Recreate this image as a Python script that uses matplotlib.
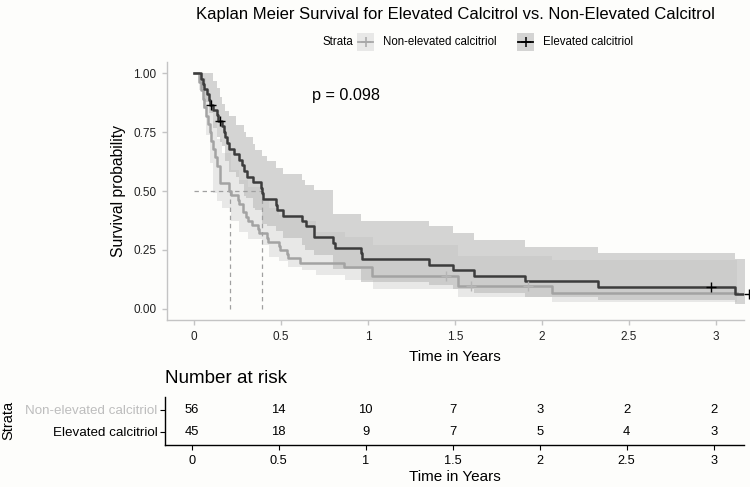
import matplotlib
matplotlib.use('Agg')
import matplotlib.pyplot as plt
from matplotlib.patches import Rectangle
from matplotlib.lines import Line2D

plt.rcParams['font.family'] = ['Liberation Sans', 'DejaVu Sans']

# ---- survival curves (step, post) ----
elev_t = [0, 0.04, 0.05, 0.06, 0.075, 0.085, 0.09, 0.11, 0.13, 0.14, 0.16, 0.17, 0.18,
          0.19, 0.20, 0.23, 0.26, 0.275, 0.29, 0.305, 0.34, 0.385, 0.39, 0.395, 0.47,
          0.475, 0.51, 0.62, 0.645, 0.69, 0.80, 0.81, 0.96, 0.965, 1.35, 1.49, 1.61,
          1.90, 2.32, 3.11, 3.19]
elev_s = [1.0, 0.978, 0.956, 0.933, 0.911, 0.889, 0.867, 0.844, 0.822, 0.80, 0.776,
          0.752, 0.728, 0.704, 0.68, 0.657, 0.633, 0.61, 0.586, 0.562, 0.538, 0.514,
          0.49, 0.467, 0.443, 0.42, 0.396, 0.373, 0.35, 0.304, 0.28, 0.259, 0.236,
          0.212, 0.186, 0.163, 0.14, 0.116, 0.093, 0.062, 0.062]

non_t = [0, 0.03, 0.04, 0.05, 0.06, 0.07, 0.08, 0.09, 0.10, 0.11, 0.12, 0.13, 0.15,
         0.20, 0.21, 0.25, 0.26, 0.28, 0.30, 0.31, 0.335, 0.37, 0.375, 0.42, 0.425,
         0.49, 0.495, 0.535, 0.54, 0.61, 0.86, 1.02, 1.025, 1.52, 2.06, 3.12]
non_s = [1.0, 0.964, 0.929, 0.893, 0.857, 0.821, 0.786, 0.75, 0.714, 0.679, 0.643,
         0.607, 0.536, 0.50, 0.482, 0.464, 0.446, 0.41, 0.39, 0.375, 0.357, 0.339,
         0.321, 0.30, 0.283, 0.265, 0.25, 0.232, 0.214, 0.196, 0.176, 0.16, 0.141,
         0.098, 0.065, 0.065]

# censoring marks
elev_cens_t = [0.097, 0.15, 2.97, 3.19]
elev_cens_s = [0.867, 0.80, 0.093, 0.062]
non_cens_t = [1.45, 1.59, 1.92]
non_cens_s = [0.141, 0.098, 0.098]

# ---- confidence bands ----
eband_t = [0, 0.04, 0.06, 0.085, 0.11, 0.13, 0.15, 0.16, 0.18, 0.20, 0.24, 0.26, 0.29,
           0.30, 0.34, 0.35, 0.39, 0.42, 0.47, 0.51, 0.62, 0.64, 0.69, 0.80, 0.96,
           1.35, 1.49, 1.61, 1.90, 2.32, 3.11, 3.19]
eband_hi = [1.0, 1.0, 1.0, 1.0, 0.97, 0.94, 0.90, 0.87, 0.84, 0.82, 0.78, 0.78, 0.75,
            0.73, 0.70, 0.673, 0.65, 0.63, 0.60, 0.574, 0.546, 0.524, 0.503, 0.404,
            0.375, 0.35, 0.32, 0.293, 0.264, 0.237, 0.212, 0.212]
eband_lo = [1.0, 0.94, 0.88, 0.83, 0.77, 0.73, 0.71, 0.69, 0.63, 0.58, 0.56, 0.53,
            0.48, 0.47, 0.43, 0.42, 0.36, 0.35, 0.33, 0.30, 0.27, 0.25, 0.23, 0.17,
            0.115, 0.10, 0.085, 0.065, 0.05, 0.035, 0.02, 0.02]

gband_t = [0, 0.03, 0.05, 0.07, 0.09, 0.11, 0.13, 0.16, 0.21, 0.26, 0.31, 0.39, 0.43,
           0.49, 0.54, 0.62, 0.70, 0.87, 1.03, 1.52, 2.06, 3.12]
gband_hi = [1.0, 1.0, 0.98, 0.93, 0.87, 0.80, 0.72, 0.66, 0.588, 0.546, 0.517, 0.468,
            0.43, 0.397, 0.385, 0.375, 0.325, 0.304, 0.269, 0.226, 0.207, 0.207]
gband_lo = [1.0, 0.93, 0.85, 0.74, 0.62, 0.49, 0.46, 0.43, 0.375, 0.325, 0.297, 0.269,
            0.219, 0.205, 0.176, 0.165, 0.145, 0.12, 0.084, 0.048, 0.03, 0.03]

# medians
med_non = 0.204
med_elev = 0.388

# ---- risk table ----
risk_times = [0, 0.5, 1, 1.5, 2, 2.5, 3]
risk_non = [56, 14, 10, 7, 3, 2, 2]
risk_elev = [45, 18, 9, 7, 5, 4, 3]
strata = ['Non-elevated calcitriol', 'Elevated calcitriol']
xticks = [0, 0.5, 1, 1.5, 2, 2.5, 3]
xtick_labels = ['0', '0.5', '1', '1.5', '2', '2.5', '3']
yticks = [0.0, 0.25, 0.5, 0.75, 1.0]
ytick_labels = ['0.00', '0.25', '0.50', '0.75', '1.00']

BG = '#fdfdfb'
C_ELEV = '#3c3c3c'
C_NON = '#a3a3a3'
F_ELEV = '#787878'
F_NON = '#bababa'
AXC = '#c4c4c4'
H, W = 487.0, 750.0

fig = plt.figure(figsize=(7.5, 4.87), dpi=100)
fig.patch.set_facecolor(BG)

# ---------- main plot ----------
ax = fig.add_axes([0.2223, 0.3419, 0.7697, 0.5314])
ax.set_facecolor(BG)
ax.fill_between(eband_t, eband_lo, eband_hi, step='post', color=F_ELEV, alpha=0.3, lw=0)
ax.fill_between(gband_t, gband_lo, gband_hi, step='post', color=F_NON, alpha=0.3, lw=0)

dash = (0, (3.5, 3))
ax.plot([0, med_elev], [0.5, 0.5], ls=dash, color='#a0a0a0', lw=0.9)
ax.plot([med_non, med_non], [0, 0.5], ls=dash, color='#a0a0a0', lw=0.9)
ax.plot([med_elev, med_elev], [0, 0.5], ls=dash, color='#a0a0a0', lw=0.9)

ax.step(non_t, non_s, where='post', color=C_NON, lw=1.8)
ax.step(elev_t, elev_s, where='post', color=C_ELEV, lw=1.8)
ax.plot(non_cens_t, non_cens_s, ls='none', marker='+', ms=6.5, mew=1.0, color='#b5b5b5')
ax.plot(elev_cens_t, elev_cens_s, ls='none', marker='+', ms=6.5, mew=1.0, color='black',
        clip_on=False)

ax.text(0.676, 0.908, 'p = 0.098', fontsize=11.7, ha='left', va='center', color='black')

ax.set_xlim(-0.157, 3.161)
ax.set_ylim(-0.05, 1.05)
ax.set_xticks(xticks)
ax.set_xticklabels(xtick_labels)
ax.set_yticks(yticks)
ax.set_yticklabels(ytick_labels)
for s in ['top', 'right']:
    ax.spines[s].set_visible(False)
for s in ['left', 'bottom']:
    ax.spines[s].set_color(AXC)
    ax.spines[s].set_linewidth(1.0)
ax.tick_params(colors=AXC, labelcolor='#222222', labelsize=8.5, length=3.5, width=1.0, pad=4)
ax.set_xlabel('Time in Years', fontsize=11, labelpad=5)
ax.set_ylabel('Survival probability', fontsize=11.3, labelpad=5)

fig.text(455 / W, 1 - 15 / H,
         'Kaplan Meier Survival for Elevated Calcitrol vs. Non-Elevated Calcitrol',
         fontsize=12, ha='center', va='center')

# ---------- legend (top) ----------
ly = 1 - 42 / H
fig.text(353 / W, ly, 'Strata', fontsize=8.3, ha='right', va='center')
keys = [(357, F_NON, '#a8a8a8', strata[0], 383), (517, F_ELEV, 'black', strata[1], 543)]
for kx, fc, lc, lab, tx in keys:
    fig.add_artist(Rectangle((kx / W, (H - 50.5) / H), 17 / W, 17 / H, transform=fig.transFigure,
                             facecolor=fc, alpha=0.3, lw=0))
    fig.add_artist(Line2D([kx / W + 1 / W, (kx + 16) / W], [ly, ly], transform=fig.transFigure,
                          color=lc, lw=1.3))
    fig.add_artist(Line2D([(kx + 8.5) / W], [ly], transform=fig.transFigure, marker='+',
                          ms=6.5, mew=1.1, color=lc, ls='none'))
    fig.text(tx / W, ly, lab, fontsize=8.3, ha='left', va='center')

# ---------- risk table ----------
rt = fig.add_axes([0.22, 0.0862, 0.772, 0.0992])
rt.set_facecolor(BG)
for t, n1, n2 in zip(risk_times, risk_non, risk_elev):
    rt.text(t, 2, str(n1), ha='center', va='center', fontsize=9.4)
    rt.text(t, 1, str(n2), ha='center', va='center', fontsize=9.4)
rt.set_xlim(-0.153, 3.174)
rt.set_ylim(0.4, 2.6)
rt.set_xticks(xticks)
rt.set_xticklabels(xtick_labels)
rt.set_yticks([2, 1])
rt.set_yticklabels(strata)
rt.get_yticklabels()[0].set_color('#bdbdbd')
rt.get_yticklabels()[1].set_color('black')
for s in ['top', 'right']:
    rt.spines[s].set_visible(False)
for s in ['left', 'bottom']:
    rt.spines[s].set_color('black')
    rt.spines[s].set_linewidth(1.0)
rt.tick_params(axis='x', labelsize=9.2, length=3.5, pad=4)
rt.tick_params(axis='y', labelsize=9.6, length=3.5, pad=2)
rt.set_xlabel('Time in Years', fontsize=11, labelpad=2)
rt.set_ylabel('Strata', fontsize=10.5, labelpad=7)
rt.text(0.0, 1 + 18.3 / 48.3, 'Number at risk', transform=rt.transAxes, fontsize=13.6,
        ha='left', va='center')

fig.savefig('out.png', dpi=100, facecolor=BG)
